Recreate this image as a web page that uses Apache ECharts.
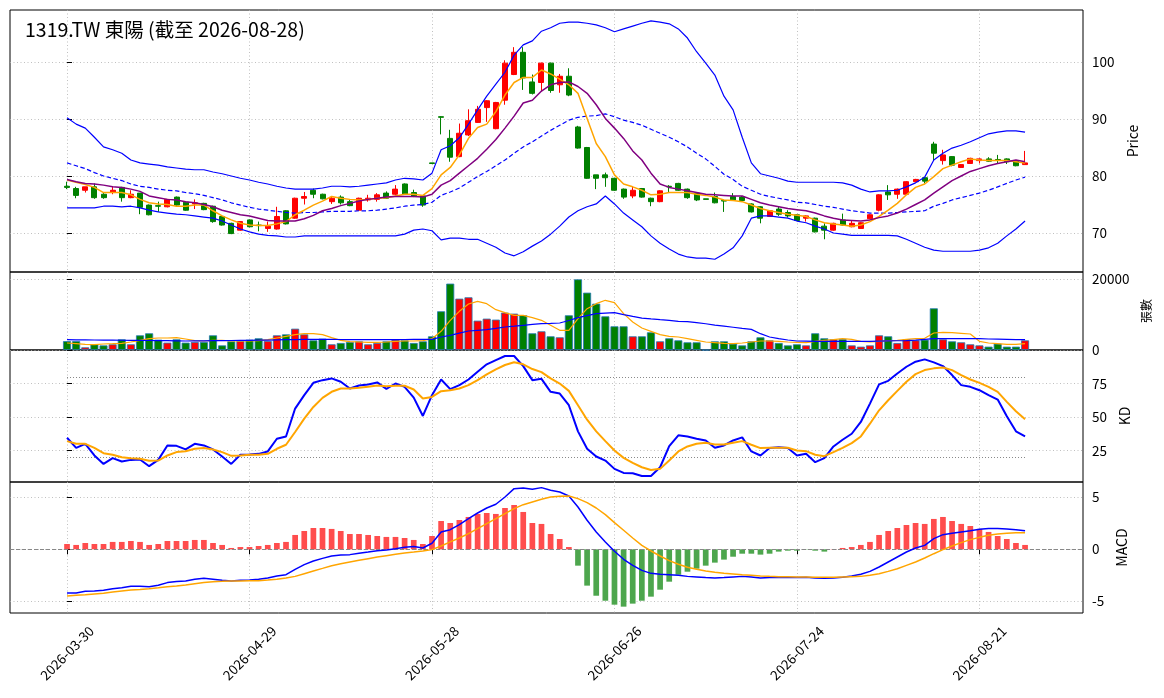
<!DOCTYPE html>
<html>
<head>
<meta charset="utf-8">
<title>1319.TW 東陽</title>
<script src="https://cdn.jsdelivr.net/npm/echarts@6/dist/echarts.min.js"></script>
<style>
    html, body { margin: 0; padding: 0; background: #fff; }
    #chart { width: 1164px; height: 698px; }
</style>
</head>
<body>
<div id="chart"></div>
<script>
//交易日
var dates = ['2026-03-30', '2026-03-31', '2026-04-01', '2026-04-02', '2026-04-07', '2026-04-08', '2026-04-09', '2026-04-10', '2026-04-13', '2026-04-14',
    '2026-04-15', '2026-04-16', '2026-04-17', '2026-04-20', '2026-04-21', '2026-04-22', '2026-04-23', '2026-04-24', '2026-04-27', '2026-04-28',
    '2026-04-29', '2026-04-30', '2026-05-04', '2026-05-05', '2026-05-06', '2026-05-07', '2026-05-08', '2026-05-11', '2026-05-12', '2026-05-13',
    '2026-05-14', '2026-05-15', '2026-05-18', '2026-05-19', '2026-05-20', '2026-05-21', '2026-05-22', '2026-05-25', '2026-05-26', '2026-05-27',
    '2026-05-28', '2026-05-29', '2026-06-01', '2026-06-02', '2026-06-03', '2026-06-04', '2026-06-05', '2026-06-08', '2026-06-09', '2026-06-10',
    '2026-06-11', '2026-06-12', '2026-06-15', '2026-06-16', '2026-06-17', '2026-06-18', '2026-06-22', '2026-06-23', '2026-06-24', '2026-06-25',
    '2026-06-26', '2026-06-29', '2026-06-30', '2026-07-01', '2026-07-02', '2026-07-03', '2026-07-06', '2026-07-07', '2026-07-08', '2026-07-09',
    '2026-07-10', '2026-07-13', '2026-07-14', '2026-07-15', '2026-07-16', '2026-07-17', '2026-07-20', '2026-07-21', '2026-07-22', '2026-07-23',
    '2026-07-24', '2026-07-27', '2026-07-28', '2026-07-29', '2026-07-30', '2026-07-31', '2026-08-03', '2026-08-04', '2026-08-05', '2026-08-06',
    '2026-08-07', '2026-08-10', '2026-08-11', '2026-08-12', '2026-08-13', '2026-08-14', '2026-08-17', '2026-08-18', '2026-08-19', '2026-08-20',
    '2026-08-21', '2026-08-24', '2026-08-25', '2026-08-26', '2026-08-27', '2026-08-28'];

//K线
var opens = [78.2, 77.8, 77.5, 78.1, 76.8, 77.1, 78.0, 76.2, 77.0, 74.9,
    74.8, 74.6, 76.3, 75.4, 75.1, 75.2, 74.7, 72.9, 71.7, 70.5,
    72.3, 71.4, 70.8, 70.7, 73.9, 72.6, 76.1, 77.5, 76.8, 75.5,
    76.3, 75.5, 74.0, 75.8, 75.9, 77.0, 76.8, 78.6, 77.1, 76.5,
    82.3, 90.4, 86.6, 83.4, 87.2, 89.4, 92.0, 88.3, 93.3, 97.8,
    101.7, 96.5, 96.4, 99.8, 96.0, 97.5, 88.6, 85.0, 80.2, 80.2,
    79.6, 77.7, 76.5, 77.8, 76.1, 75.5, 78.2, 78.7, 77.7, 77.0,
    76.0, 76.4, 75.7, 76.4, 76.3, 75.1, 74.6, 72.9, 74.2, 73.6,
    73.2, 72.6, 72.6, 71.2, 70.5, 72.3, 71.1, 70.8, 72.5, 74.0,
    77.2, 76.8, 76.8, 79.0, 79.7, 85.6, 82.7, 83.4, 81.5, 82.2,
    82.7, 83.0, 82.9, 83.0, 82.6, 82.0];
var closes = [78.0, 76.6, 78.1, 76.2, 76.2, 77.5, 76.2, 76.8, 74.5, 73.2,
    74.7, 75.9, 74.9, 74.0, 75.3, 74.1, 72.0, 71.4, 69.9, 72.0,
    71.1, 71.3, 71.2, 72.9, 71.6, 76.1, 76.4, 76.8, 76.0, 76.1,
    75.3, 74.8, 76.1, 76.1, 76.7, 76.1, 77.7, 76.8, 76.4, 74.9,
    82.2, 90.3, 83.3, 87.5, 89.7, 91.7, 93.2, 92.9, 99.8, 101.7,
    97.2, 94.5, 99.8, 95.0, 97.5, 94.2, 84.9, 79.6, 79.6, 79.7,
    77.5, 76.3, 77.5, 76.3, 75.5, 77.4, 78.1, 77.5, 76.2, 75.8,
    75.9, 75.3, 75.6, 75.8, 75.7, 73.7, 72.6, 73.9, 73.3, 73.0,
    72.2, 73.0, 70.2, 70.5, 71.7, 71.4, 71.7, 71.8, 73.2, 76.7,
    76.7, 77.7, 79.0, 79.4, 79.1, 84.0, 83.7, 81.9, 82.0, 83.1,
    83.0, 82.6, 82.8, 82.5, 81.8, 82.3];
var lows = [77.7, 76.1, 77.1, 76.0, 76.0, 76.8, 75.5, 76.1, 73.3, 73.1,
    73.7, 74.5, 74.8, 73.9, 74.2, 74.0, 71.8, 71.3, 69.8, 70.4,
    71.0, 70.3, 70.2, 70.6, 71.5, 72.5, 75.0, 76.1, 75.9, 75.1,
    75.0, 74.7, 73.9, 75.5, 75.5, 76.0, 76.6, 76.7, 76.3, 74.6,
    82.1, 87.3, 82.5, 83.3, 87.0, 89.3, 89.5, 88.2, 92.5, 97.7,
    95.1, 94.3, 94.8, 94.6, 94.6, 94.0, 84.8, 79.5, 77.7, 78.1,
    77.4, 76.0, 76.1, 76.2, 74.7, 75.4, 77.2, 77.4, 76.0, 75.6,
    75.9, 75.2, 73.7, 75.7, 75.6, 73.6, 71.7, 72.8, 73.0, 72.7,
    72.1, 72.0, 70.1, 68.9, 70.4, 71.3, 71.0, 70.7, 72.4, 73.8,
    75.8, 76.0, 76.7, 78.9, 78.7, 82.8, 82.0, 81.7, 81.4, 82.1,
    82.2, 82.5, 82.2, 82.1, 81.7, 82.0];
var highs = [79.0, 78.1, 78.1, 78.7, 77.0, 78.2, 78.1, 77.5, 77.0, 75.0,
    75.5, 75.9, 76.4, 75.5, 75.9, 75.3, 74.8, 73.0, 71.8, 72.1,
    72.4, 72.0, 72.0, 74.6, 74.0, 76.2, 77.2, 77.8, 76.9, 76.4,
    76.6, 75.8, 76.2, 76.7, 77.0, 77.3, 78.4, 78.7, 77.6, 76.6,
    82.3, 90.5, 88.1, 89.2, 91.7, 92.3, 93.3, 93.0, 100.3, 102.6,
    102.6, 97.8, 99.9, 99.9, 97.9, 98.9, 88.8, 85.1, 80.2, 80.6,
    79.7, 77.8, 78.1, 77.9, 76.2, 77.5, 78.4, 78.8, 77.8, 77.1,
    76.0, 77.1, 75.8, 77.0, 76.5, 75.2, 74.7, 74.0, 74.7, 74.0,
    73.3, 73.1, 72.7, 71.7, 71.8, 73.4, 72.2, 71.9, 73.3, 76.8,
    78.4, 77.8, 79.1, 79.5, 79.8, 86.0, 84.6, 83.5, 82.1, 83.2,
    83.1, 83.3, 83.7, 83.1, 82.7, 84.4];

//均线、布林通道
var ma5 = [79.3, 78.9, 78.5, 78.0, 77.1, 77.1, 77.1, 76.7, 75.9, 75.3,
    75.1, 75.0, 74.7, 74.7, 74.9, 74.9, 73.9, 73.0, 72.3, 71.7,
    71.4, 71.3, 71.3, 71.6, 72.0, 73.2, 74.0, 74.9, 75.6, 76.4,
    76.1, 75.9, 75.8, 75.9, 76.1, 76.2, 76.5, 76.8, 76.8, 76.6,
    77.8, 80.2, 81.5, 83.7, 86.6, 88.5, 89.1, 91.3, 94.2, 96.4,
    97.3, 97.3, 98.6, 97.9, 97.0, 96.0, 94.5, 90.1, 85.7, 83.4,
    80.2, 78.6, 78.1, 77.5, 76.7, 76.8, 77.1, 77.1, 77.1, 76.8,
    76.6, 76.3, 75.8, 75.7, 75.5, 74.9, 74.3, 73.9, 73.6, 73.3,
    73.1, 72.9, 72.3, 71.8, 71.6, 71.4, 71.2, 71.4, 72.0, 72.9,
    74.0, 75.2, 76.7, 78.0, 78.6, 79.9, 81.3, 81.9, 82.5, 83.0,
    82.8, 82.7, 82.7, 82.7, 82.5, 82.3];
var ma10 = [79.4, 79.0, 78.7, 78.6, 78.4, 78.1, 78.0, 77.7, 77.3, 76.5,
    76.2, 75.9, 75.8, 75.5, 75.3, 75.0, 74.6, 74.0, 73.6, 73.2,
    73.0, 72.6, 72.2, 72.1, 72.1, 72.1, 72.5, 73.1, 73.9, 74.3,
    74.8, 75.2, 75.6, 75.9, 76.1, 76.3, 76.4, 76.4, 76.4, 76.3,
    76.8, 78.4, 79.2, 80.5, 81.8, 83.1, 84.7, 86.4, 88.4, 90.5,
    92.8, 93.3, 94.9, 96.0, 96.4, 96.5, 95.7, 94.5, 92.5, 90.1,
    88.4, 86.6, 84.4, 82.8, 80.5, 78.6, 78.0, 77.7, 77.4, 77.1,
    76.8, 76.7, 76.6, 76.5, 76.5, 75.9, 75.3, 74.9, 74.6, 74.3,
    74.1, 73.9, 73.5, 73.0, 72.6, 72.3, 72.2, 72.1, 72.3, 72.7,
    73.0, 73.5, 74.2, 75.0, 75.8, 77.0, 78.1, 79.2, 80.0, 80.8,
    81.3, 81.8, 82.2, 82.5, 82.8, 82.5];
var bbUpper = [90.2, 89.1, 88.4, 86.8, 85.1, 84.6, 84.0, 82.8, 82.3, 82.1,
    81.9, 81.6, 81.4, 81.2, 81.1, 81.1, 80.7, 80.4, 80.0, 79.6,
    79.3, 78.9, 78.6, 78.2, 77.9, 77.7, 77.7, 77.7, 77.9, 78.2,
    78.2, 78.1, 78.2, 78.4, 78.6, 78.8, 79.3, 79.6, 79.5, 79.3,
    80.5, 84.6, 85.3, 86.7, 89.1, 91.6, 94.0, 96.1, 98.2, 101.2,
    103.0, 103.7, 105.4, 106.0, 106.8, 107.0, 107.0, 106.8, 106.5, 106.0,
    105.3, 105.8, 106.3, 106.8, 107.2, 107.0, 106.7, 105.8, 104.2, 101.8,
    99.8, 97.7, 94.0, 91.6, 86.8, 82.3, 80.4, 80.0, 79.6, 79.1,
    78.9, 78.9, 78.9, 78.9, 78.9, 78.8, 78.4, 77.7, 77.2, 77.4,
    77.4, 77.5, 78.1, 78.8, 79.8, 82.8, 84.0, 84.9, 85.4, 86.0,
    86.7, 87.4, 87.7, 87.9, 87.9, 87.7];
var bbMid = [82.3, 81.8, 81.3, 80.6, 80.0, 79.6, 79.2, 78.6, 78.2, 78.0,
    77.7, 77.5, 77.4, 77.1, 76.9, 76.6, 76.2, 75.8, 75.3, 74.9,
    74.5, 74.2, 74.0, 73.8, 73.6, 73.5, 73.6, 73.6, 73.7, 73.8,
    73.8, 73.8, 73.9, 73.9, 74.0, 74.2, 74.4, 74.7, 74.9, 75.0,
    75.4, 76.6, 77.2, 77.9, 78.9, 79.9, 80.8, 81.8, 82.8, 84.0,
    85.1, 86.0, 87.0, 88.0, 88.9, 89.8, 90.3, 90.5, 90.6, 90.9,
    90.4, 89.8, 89.4, 88.9, 88.2, 87.5, 86.8, 86.0, 85.1, 84.0,
    83.0, 81.7, 80.3, 79.4, 78.2, 77.5, 76.8, 76.4, 76.1, 75.8,
    75.4, 75.3, 75.0, 74.7, 74.5, 74.2, 73.9, 73.7, 73.5, 73.5,
    73.5, 73.6, 73.7, 73.8, 73.9, 74.7, 75.2, 75.8, 76.2, 76.6,
    77.0, 77.5, 78.1, 78.7, 79.3, 79.8];
var bbLower = [74.4, 74.4, 74.4, 74.4, 74.7, 74.7, 74.6, 74.7, 74.4, 74.0,
    73.7, 73.5, 73.3, 73.2, 73.0, 72.8, 72.6, 72.1, 71.4, 70.7,
    70.2, 69.8, 69.6, 69.5, 69.3, 69.3, 69.5, 69.5, 69.5, 69.5,
    69.5, 69.5, 69.5, 69.5, 69.5, 69.5, 69.5, 69.8, 70.5, 70.7,
    70.4, 68.8, 69.1, 69.1, 68.9, 68.9, 68.2, 67.5, 66.5, 66.0,
    66.7, 67.7, 68.6, 69.8, 71.2, 72.8, 73.9, 74.6, 75.1, 76.5,
    75.1, 73.5, 72.3, 71.1, 69.5, 68.2, 67.2, 66.3, 65.8, 65.6,
    65.6, 65.4, 66.3, 67.4, 69.5, 72.6, 73.0, 73.0, 72.8, 72.6,
    72.1, 71.8, 71.2, 70.7, 70.0, 69.8, 69.6, 69.6, 69.6, 69.6,
    69.6, 69.5, 68.9, 68.2, 67.5, 67.0, 66.8, 66.8, 66.8, 66.8,
    67.0, 67.4, 68.2, 69.5, 70.7, 72.1];

//成交量(张)
var volumes = [2500, 2500, 750, 1600, 1300, 1600, 3000, 1600, 4130, 4700,
    2900, 2070, 3000, 2070, 2250, 2250, 4130, 1300, 2440, 2540,
    2900, 3290, 2540, 4130, 4400, 6000, 4400, 2720, 3190, 1600,
    1970, 2250, 2440, 1600, 1970, 2440, 2900, 2720, 1970, 2440,
    3850, 10900, 18690, 14460, 14840, 8260, 8830, 8550, 10520, 10240,
    9770, 4700, 5260, 3850, 3570, 9770, 19900, 16150, 13050, 9480,
    6670, 6670, 3850, 3850, 4980, 2440, 3290, 2720, 2160, 2160,
    0, 2440, 2440, 1780, 1300, 2440, 3570, 2720, 1970, 1300,
    1600, 1300, 4700, 3290, 3000, 3100, 1300, 940, 1300, 4130,
    3850, 1970, 3000, 2720, 2900, 11740, 3000, 2440, 2160, 1600,
    1300, 940, 1780, 940, 940, 2720];
var volMa5 = [1970, 1780, 1600, 1500, 1690, 1780, 1880, 2250, 2720, 3190,
    3380, 3380, 3470, 3100, 2630, 2540, 2720, 2720, 2540, 2540,
    2540, 2630, 2910, 3380, 3850, 4320, 4600, 4600, 4320, 3470,
    2720, 2350, 2250, 2160, 2160, 2250, 2440, 2540, 2540, 2630,
    3190, 5260, 8360, 10900, 12960, 13700, 13050, 11360, 10520, 9770,
    9770, 9100, 8360, 6950, 5540, 5540, 8830, 11640, 13050, 14000,
    13330, 10240, 7890, 6200, 5260, 4320, 3850, 3660, 3190, 2720,
    2250, 2070, 1880, 1780, 1970, 2250, 2540, 2540, 2440, 2250,
    2160, 2070, 2440, 2720, 2910, 3190, 3000, 2440, 2250, 2440,
    2630, 2720, 3000, 3190, 3290, 4790, 4980, 4880, 4700, 4510,
    2440, 1970, 1780, 1600, 1600, 1780];
var volMa20 = [2900, 2880, 2850, 2820, 2800, 2780, 2750, 2720, 2700, 2680,
    2650, 2620, 2580, 2540, 2560, 2580, 2620, 2650, 2680, 2700,
    2720, 2760, 2800, 2850, 2900, 2950, 3000, 3020, 3000, 2980,
    2960, 2940, 2920, 2910, 2910, 2910, 2940, 2960, 2980, 2990,
    3000, 3660, 4130, 4750, 5350, 5550, 5730, 6100, 6480, 6700,
    6950, 7200, 7420, 7500, 7600, 8300, 9100, 9700, 10240, 10400,
    10520, 9950, 9450, 9000, 8750, 8550, 8360, 8080, 8000, 7700,
    7400, 7000, 6700, 6400, 6100, 5820, 4600, 3660, 3190, 2820,
    2540, 2500, 2450, 2440, 2440, 2440, 2440, 2440, 2440, 2500,
    2550, 2600, 2650, 2800, 3000, 3190, 3190, 3190, 3190, 3190,
    3190, 3100, 3050, 3000, 2950, 2910];

//KD
var kValues = [34.5, 27, 30, 21.3, 15, 19.3, 16.8, 18, 18.3, 13.3,
    18, 28.8, 28.5, 25.8, 30, 28.8, 25.8, 20.5, 15, 21.8,
    22, 22.5, 24.3, 33.8, 35.5, 56.3, 66.3, 75.5, 77.5, 78.8,
    76.3, 71.3, 73.5, 74.3, 75.8, 71, 75, 72.5, 64.5, 50.8,
    66.3, 78, 70.8, 73.8, 78, 83.8, 89.3, 92.5, 95.5, 95.5,
    88, 77.5, 78.5, 68.8, 67.5, 58.8, 39.3, 26.3, 20.5, 17.5,
    11.3, 8.3, 8, 6, 6, 12.5, 28.3, 36.3, 35.5, 33.8,
    32.5, 27, 28.8, 32.5, 34.8, 24.3, 21.3, 26.8, 27.5, 26.8,
    21.3, 22.5, 16.3, 19.3, 28, 33, 37.5, 46.3, 60, 74.3,
    77, 82.5, 87.5, 91.3, 93, 90.8, 88, 81.3, 73.8, 72.5,
    70, 66.3, 63, 50.5, 39.3, 35.5];
var dValues = [32, 30, 30, 27, 23, 21.8, 20, 19.3, 18.8, 17.3,
    17.5, 21.3, 23.8, 24.5, 26.3, 26.8, 25.8, 23.8, 21, 21.3,
    21.8, 21.8, 22.5, 26.3, 29.3, 38.8, 48.8, 57.5, 64.3, 68.8,
    71.3, 71.3, 71.8, 72.5, 73.5, 73, 73.3, 73.3, 70.5, 63.8,
    65, 69.3, 70, 71.3, 73.8, 77.5, 81.8, 85.5, 88.8, 90.8,
    89.3, 85.8, 83.5, 78.8, 75, 69.5, 58.8, 48, 39.3, 32,
    25, 19.5, 15.8, 12.5, 10.5, 11.3, 17.5, 24.3, 28, 30,
    30.8, 29.5, 29.5, 30.8, 32, 29.3, 26.8, 27, 27, 27,
    25, 24.5, 21.8, 20.8, 23.8, 27, 30.5, 35.5, 45, 55,
    62.5, 69.5, 76.3, 82, 85, 86.3, 87, 85, 81.3, 78,
    75.5, 72.5, 68.8, 61.3, 54.3, 48.3];

//MACD
var difValues = [-4.2, -4.2, -4.04, -4.0, -3.94, -3.78, -3.69, -3.56, -3.56, -3.59,
    -3.46, -3.2, -3.1, -3.04, -2.88, -2.79, -2.88, -2.98, -3.04, -2.98,
    -2.95, -2.88, -2.76, -2.56, -2.44, -1.92, -1.47, -1.12, -0.87, -0.64,
    -0.54, -0.51, -0.38, -0.26, -0.13, -0.06, 0.06, 0.19, 0.26, 0.13,
    0.58, 1.67, 1.89, 2.37, 2.95, 3.49, 3.97, 4.33, 5.03, 5.83,
    5.9, 5.77, 5.93, 5.67, 5.51, 5.13, 4.07, 2.79, 1.67, 0.71,
    -0.19, -0.96, -1.54, -2.02, -2.31, -2.4, -2.44, -2.5, -2.6, -2.66,
    -2.72, -2.76, -2.72, -2.66, -2.6, -2.66, -2.76, -2.72, -2.72, -2.72,
    -2.72, -2.69, -2.76, -2.79, -2.76, -2.69, -2.56, -2.4, -2.12, -1.7,
    -1.22, -0.74, -0.26, 0.13, 0.38, 1.03, 1.41, 1.54, 1.67, 1.79,
    1.92, 1.99, 1.99, 1.96, 1.89, 1.79];
var deaValues = [-4.49, -4.42, -4.36, -4.29, -4.23, -4.1, -4.0, -3.91, -3.85, -3.78,
    -3.69, -3.59, -3.53, -3.43, -3.3, -3.2, -3.11, -3.08, -3.04, -3.04,
    -3.01, -3.01, -2.95, -2.88, -2.76, -2.6, -2.34, -2.08, -1.83, -1.57,
    -1.38, -1.22, -1.06, -0.9, -0.74, -0.61, -0.48, -0.35, -0.26, -0.16,
    -0.03, 0.32, 0.71, 1.09, 1.51, 1.99, 2.47, 2.95, 3.43, 3.91,
    4.29, 4.55, 4.81, 5.03, 5.1, 5.13, 4.87, 4.49, 3.97, 3.33,
    2.56, 1.83, 1.09, 0.38, -0.16, -0.64, -1.09, -1.44, -1.73, -1.92,
    -2.08, -2.21, -2.31, -2.37, -2.44, -2.5, -2.56, -2.6, -2.63, -2.63,
    -2.66, -2.66, -2.69, -2.69, -2.69, -2.66, -2.63, -2.6, -2.5, -2.34,
    -2.12, -1.86, -1.54, -1.22, -0.83, -0.42, -0.03, 0.32, 0.64, 0.93,
    1.15, 1.35, 1.47, 1.54, 1.6, 1.6];
var macdHist = [0.51, 0.42, 0.61, 0.51, 0.51, 0.71, 0.71, 0.80, 0.71, 0.42,
    0.51, 0.80, 0.80, 0.80, 0.90, 0.90, 0.61, 0.42, 0.13, 0.22,
    0.22, 0.32, 0.42, 0.61, 0.71, 1.38, 1.76, 2.05, 2.05, 1.96,
    1.76, 1.47, 1.47, 1.38, 1.28, 1.19, 1.19, 1.09, 0.90, 0.51,
    1.28, 2.72, 2.53, 2.82, 3.11, 3.40, 3.49, 3.40, 3.97, 4.26,
    3.59, 2.53, 2.44, 1.47, 0.99, 0.22, -1.57, -3.49, -4.46, -4.94,
    -5.32, -5.51, -5.22, -4.94, -4.55, -3.88, -3.11, -2.44, -2.15, -1.86,
    -1.57, -1.28, -0.99, -0.71, -0.42, -0.42, -0.51, -0.42, -0.22, -0.13,
    -0.13, -0.03, -0.13, -0.22, 0.03, 0.13, 0.22, 0.42, 0.71, 1.38,
    1.76, 2.05, 2.34, 2.53, 2.44, 2.92, 3.11, 2.72, 2.44, 2.24,
    1.96, 1.67, 1.28, 0.99, 0.61, 0.42];

//刻度
var dateTicks = [0, 20, 40, 60, 80, 100];
var priceTicks = [70, 80, 90, 100];
var volTicks = [0, 20000];
var kdTicks = [25, 50, 75];
var macdTicks = [-5, 0, 5];

var FONT = 'Noto Sans CJK TC';
var gridLine = {show: true, lineStyle: {color: '#b0b0b0', width: 0.8, type: [1, 2.5]}};

function pairs(arr) {
    return arr.map(function (v, i) { return [i, v]; });
}

function upColor(i) {
    return closes[i] >= opens[i] ? '#ff0000' : '#008000';
}

function xAxisFor(idx, bottom) {
    return {
        type: 'value',
        gridIndex: idx,
        min: -6.25,
        max: 111.35,
        axisLine: {show: false},
        axisTick: {show: bottom, customValues: dateTicks, length: 5, lineStyle: {color: '#000'}},
        axisLabel: {
            show: bottom,
            customValues: dateTicks,
            rotate: 45,
            align: 'center',
            verticalAlign: 'middle',
            margin: 40,
            fontSize: 13.5,
            color: '#000',
            fontFamily: FONT,
            formatter: function (v) { return dates[Math.round(v)]; }
        },
        splitLine: gridLine
    };
}

function yAxisFor(idx, min, max, ticks, name, gap, nameSize) {
    return {
        type: 'value',
        gridIndex: idx,
        position: 'right',
        min: min,
        max: max,
        name: name,
        nameLocation: 'middle',
        nameRotate: 90,
        nameGap: gap,
        nameTextStyle: {fontSize: nameSize, color: '#000', fontFamily: FONT},
        axisLine: {show: false},
        axisTick: {show: true, customValues: ticks, length: 5, lineStyle: {color: '#000'}},
        axisLabel: {
            customValues: ticks,
            margin: 9,
            fontSize: 13.5,
            color: '#000',
            fontFamily: FONT,
            formatter: function (v) { return String(v); }
        },
        splitLine: gridLine
    };
}

function lineSeries(name, arr, color, width, xi, dash) {
    return {
        name: name,
        type: 'line',
        xAxisIndex: xi,
        yAxisIndex: xi,
        data: pairs(arr),
        showSymbol: false,
        silent: true,
        z: 5,
        lineStyle: {color: color, width: width, type: dash || 'solid'}
    };
}

var chart = echarts.init(document.getElementById('chart'));

var frame = {show: true, borderColor: '#000', borderWidth: 1, backgroundColor: 'transparent', left: 10, width: 1073};

var option = {
    animation: false,
    backgroundColor: '#fff',
    textStyle: {fontFamily: FONT},
    title: {
        text: '1319.TW 東陽 (截至 2026-08-28)',
        left: 25,
        top: 20,
        padding: 0,
        textStyle: {fontSize: 19.5, fontWeight: 'normal', color: '#000', fontFamily: FONT}
    },
    grid: [
        Object.assign({top: 10, height: 262}, frame),
        Object.assign({top: 272, height: 78}, frame),
        Object.assign({top: 350, height: 132}, frame),
        Object.assign({top: 482, height: 131}, frame)
    ],
    xAxis: [xAxisFor(0, false), xAxisFor(1, false), xAxisFor(2, false), xAxisFor(3, true)],
    yAxis: [
        yAxisFor(0, 63.16, 109.12, priceTicks, 'Price', 36, 14),
        yAxisFor(1, 0, 21970, volTicks, '張數', 55, 12),
        yAxisFor(2, 1.5, 100, kdTicks, 'KD', 26, 14),
        yAxisFor(3, -6.12, 6.47, macdTicks, 'MACD', 27, 14)
    ],
    series: [
        {
            name: 'K線',
            type: 'candlestick',
            xAxisIndex: 0,
            yAxisIndex: 0,
            data: dates.map(function (d, i) { return [i, opens[i], closes[i], lows[i], highs[i]]; }),
            encode: {x: 0, y: [1, 2, 3, 4]},
            barWidth: 5.5,
            z: 3,
            itemStyle: {color: '#ff0000', color0: '#008000', borderColor: '#ff0000', borderColor0: '#008000', borderWidth: 1}
        },
        lineSeries('BB上軌', bbUpper, '#0000ff', 1.2, 0),
        lineSeries('BB中軌', bbMid, '#0000ff', 1.2, 0, [4.5, 2.5]),
        lineSeries('BB下軌', bbLower, '#0000ff', 1.2, 0),
        lineSeries('MA5', ma5, '#ffa500', 1.5, 0),
        lineSeries('MA10', ma10, '#800080', 1.5, 0),
        {
            name: '張數',
            type: 'bar',
            xAxisIndex: 1,
            yAxisIndex: 1,
            data: pairs(volumes),
            barWidth: 8,
            itemStyle: {
                color: function (p) { return upColor(p.dataIndex); },
                borderColor: '#1f77b4',
                borderWidth: 0.8
            }
        },
        lineSeries('量MA5', volMa5, '#ffa500', 1.2, 1),
        lineSeries('量MA20', volMa20, '#0000ff', 1.2, 1),
        {
            name: 'K',
            type: 'line',
            xAxisIndex: 2,
            yAxisIndex: 2,
            data: pairs(kValues),
            showSymbol: false,
            z: 5,
            lineStyle: {color: '#0000ff', width: 2},
            markLine: {
                silent: true,
                symbol: 'none',
                label: {show: false},
                lineStyle: {color: '#888', width: 1, type: [1, 2]},
                data: [
                    [{coord: [0, 80]}, {coord: [dates.length - 1, 80]}],
                    [{coord: [0, 20]}, {coord: [dates.length - 1, 20]}]
                ]
            }
        },
        lineSeries('D', dValues, '#ffa500', 2, 2),
        {
            name: 'MACD柱',
            type: 'bar',
            xAxisIndex: 3,
            yAxisIndex: 3,
            data: pairs(macdHist),
            barWidth: 5.7,
            itemStyle: {
                color: function (p) { return p.value[1] >= 0 ? '#ff4d4d' : '#4da64d'; }
            },
            markLine: {
                silent: true,
                symbol: 'none',
                label: {show: false},
                lineStyle: {color: '#888', width: 1, type: [4, 2]},
                data: [{yAxis: 0}]
            }
        },
        lineSeries('DIF', difValues, '#0000ff', 1.5, 3),
        lineSeries('DEA', deaValues, '#ffa500', 1.5, 3)
    ]
};

chart.setOption(option);
</script>
</body>
</html>
